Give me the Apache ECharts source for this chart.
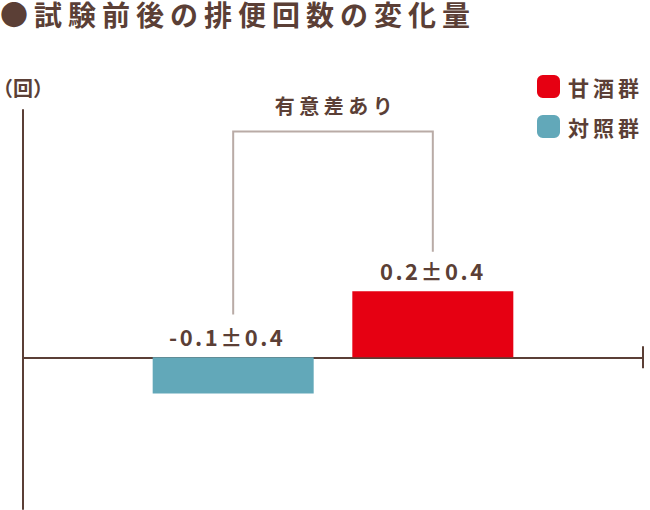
<!DOCTYPE html>
<html>
<head>
<meta charset="utf-8">
<script src="https://cdn.jsdelivr.net/npm/echarts@6/dist/echarts.min.js"></script>
<style>html,body{margin:0;padding:0;background:#fff;}#c{width:650px;height:510px;}</style>
</head>
<body>
<div id="c"></div>
<script>
const titleText = '●試験前後の排便回数の変化量';
const unitLabel = '（回）';
const seriesNames = ['対照群', '甘酒群'];
const legendOrder = ['甘酒群', '対照群'];
const values = [-0.11, 0.2];
const valueLabels = ['-0.1±0.4', '0.2±0.4'];
const sigText = '有意差あり';
const bracketLegs = [0.13, 0.32];
const bracketTop = 0.685;

const BROWN = '#5b3f36';
const COLORS = ['#62a8b9', '#e60012'];
const FONT = '"Noto Sans CJK JP", "Noto Sans", sans-serif';

const chart = echarts.init(document.getElementById('c'), null, {renderer: 'svg'});
const option = {
  animation: false,
  backgroundColor: '#fff',
  title: {
    text: titleText, left: 0, top: 0, padding: 0,
    textStyle: {fontFamily: FONT, fontSize: 28, fontWeight: 'bold', color: BROWN}
  },
  legend: {
    data: legendOrder, orient: 'vertical', left: 537, top: 75, padding: 0,
    itemWidth: 23, itemHeight: 23, itemGap: 17,
    icon: 'roundRect',
    textStyle: {fontFamily: FONT, fontSize: 21, fontWeight: 'bold', color: BROWN, padding: [0, 0, 0, 3]}
  },
  grid: {left: 23, right: 7, top: 110, bottom: 1, containLabel: false, outerBoundsMode: 'none'},
  xAxis: {
    type: 'category', data: [''],
    axisLine: {show: true, onZero: true, lineStyle: {color: BROWN, width: 2},
      symbol: ['none', 'rect'], symbolSize: [22, 2]},
    axisTick: {show: false}, axisLabel: {show: false}, splitLine: {show: false}
  },
  yAxis: {
    type: 'value', min: -0.46, max: 0.75,
    name: unitLabel, nameLocation: 'end', nameGap: 13,
    nameTextStyle: {fontFamily: FONT, fontSize: 20, fontWeight: 'bold', color: BROWN, align: 'center'},
    axisLine: {show: true, lineStyle: {color: BROWN, width: 2}},
    axisTick: {show: false}, axisLabel: {show: false}, splitLine: {show: false}
  },
  series: seriesNames.map((n, i) => ({
    name: n, type: 'bar', data: [values[i]],
    barWidth: 161, barGap: '24%',
    itemStyle: {color: COLORS[i]},
    label: {
      show: true, position: 'top', distance: 10,
      offset: i === 0 ? [-6, 0] : [0, 0],
      formatter: () => valueLabels[i],
      fontFamily: FONT, fontSize: 22, fontWeight: 'bold', color: BROWN
    }
  }))
};
chart.setOption(option);

function drawBracket() {
  const xs = [0, 1].map(i => {
    const lay = chart.getModel().getSeriesByIndex(i).getData().getItemLayout(0);
    return lay.x + lay.width / 2;
  });
  const yLeg = bracketLegs.map(v => chart.convertToPixel({yAxisIndex: 0}, v));
  const yTop = chart.convertToPixel({yAxisIndex: 0}, bracketTop);
  chart.setOption({
    graphic: [
      {type: 'polyline', shape: {points: [[xs[0], yLeg[0]], [xs[0], yTop], [xs[1], yTop], [xs[1], yLeg[1]]]},
       style: {stroke: '#b9aba6', lineWidth: 2, fill: null}, silent: true},
      {type: 'text', x: (xs[0] + xs[1]) / 2 + 3, y: yTop - 26,
       style: {text: sigText, fontFamily: FONT, fontSize: 20, fontWeight: 'bold', fill: BROWN,
               align: 'center', verticalAlign: 'middle'}}
    ]
  });
}
drawBracket();

// letter spacing (SVG renderer text)
const spacing = {};
spacing[titleText] = 6;
spacing[sigText] = 4.5;
legendOrder.forEach(t => spacing[t] = 4);
valueLabels.forEach(t => spacing[t] = 2.5);
function applySpacing() {
  document.querySelectorAll('#c text').forEach(el => {
    const t = el.textContent;
    if (spacing[t]) el.style.letterSpacing = spacing[t] + 'px';
  });
}
applySpacing();
chart.on('finished', applySpacing);
</script>
</body>
</html>
